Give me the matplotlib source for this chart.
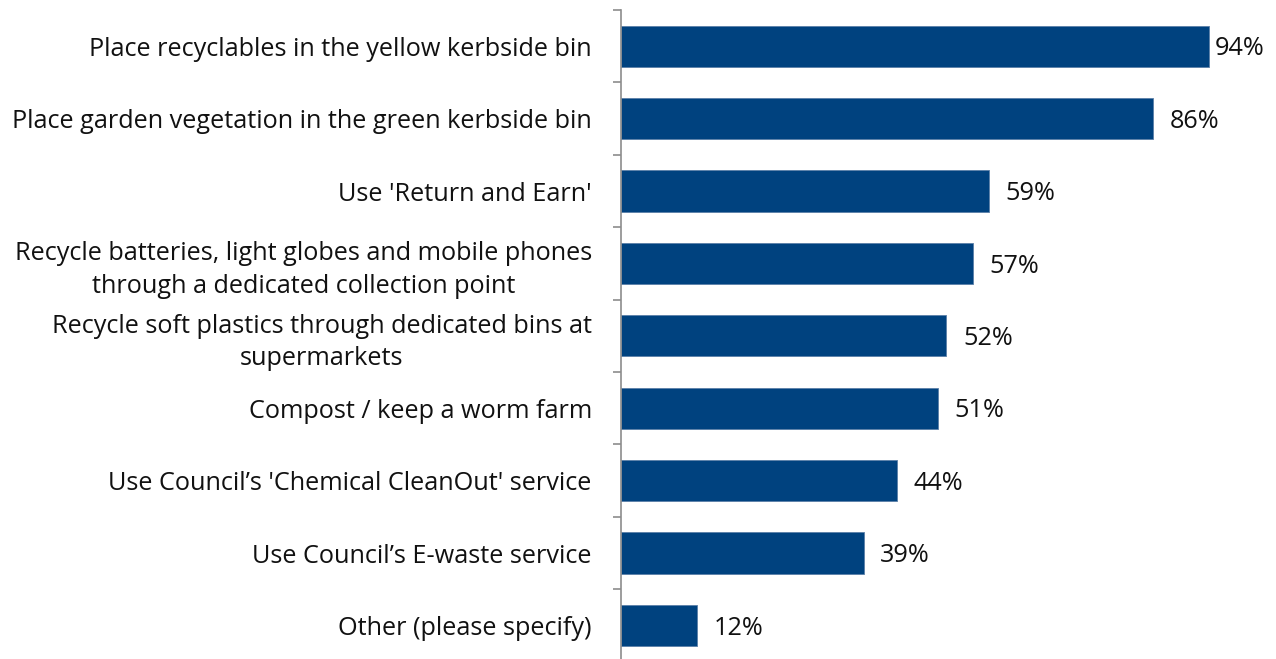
import matplotlib
matplotlib.use('Agg')
import matplotlib.pyplot as plt
import numpy as np

# Chart data
categories = [
    'Place recyclables in the yellow kerbside bin',
    'Place garden vegetation in the green kerbside bin',
    "Use 'Return and Earn'",
    'Recycle batteries, light globes and mobile phones\nthrough a dedicated collection point',
    'Recycle soft plastics through dedicated bins at\nsupermarkets',
    'Compost / keep a worm farm',
    "Use Council\u2019s 'Chemical CleanOut' service",
    "Use Council\u2019s E-waste service",
    'Other (please specify)',
]
values = [94.0, 85.1, 58.8, 56.3, 52.0, 50.7, 44.1, 38.8, 12.2]
pct_labels = ['94%', '86%', '59%', '57%', '52%', '51%', '44%', '39%', '12%']

plt.rcParams['font.family'] = ['Open Sans', 'DejaVu Sans']

fig = plt.figure(figsize=(12.76, 6.59), dpi=100)
ax = fig.add_axes([621 / 1276, -0.004, (1246.5 - 621) / 1276, 1 - 10 / 659 + 0.004])

y = np.arange(len(categories))
ax.barh(y, values, height=0.57, color='#00427F', edgecolor='#5b7fa8', linewidth=0.6)
ax.set_ylim(len(categories) - 0.5, -0.5)
ax.set_xlim(0, 100)

# percentage labels at bar ends
for yi, v, lab in zip(y, values, pct_labels):
    off = 4.5 if v > 90 else 12
    ax.annotate(lab, (v, yi), xytext=(off, -2), textcoords='offset points',
                va='center', ha='left', fontsize=18.2, color='#111111')

ax.set_yticks(y)
ax.set_yticklabels(categories, fontsize=18.2, color='#111111', multialignment='center',
                   linespacing=1.4)
ax.tick_params(axis='y', which='major', length=0, pad=21)
ax.set_yticks(np.arange(len(categories) + 1) - 0.5, minor=True)
ax.tick_params(axis='y', which='minor', length=6, width=1.2, color='#8c8c8c')

ax.set_xticks([])
for s in ['top', 'right', 'bottom']:
    ax.spines[s].set_visible(False)
ax.spines['left'].set_color('#8c8c8c')
ax.spines['left'].set_linewidth(1.2)

fig.savefig('out.png', dpi=100)
